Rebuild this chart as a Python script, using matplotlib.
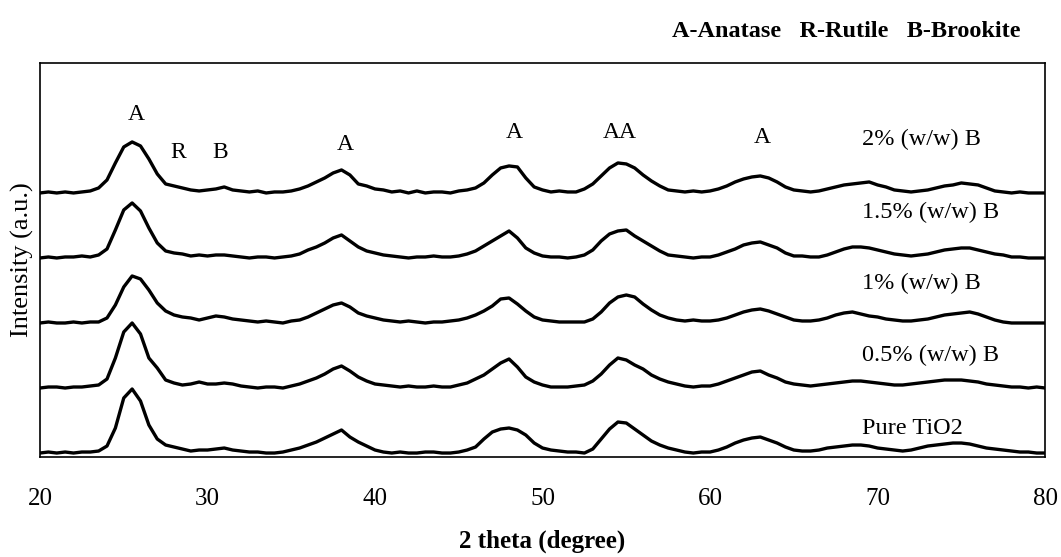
import numpy as np
import matplotlib
matplotlib.use('Agg')
import matplotlib.pyplot as plt

plt.rcParams['font.family'] = ['Liberation Serif', 'DejaVu Serif']

# 2 theta grid (degrees), 0.5 degree steps from 20 to 80
two_theta = np.arange(20, 80.5, 0.5)

# intensities (a.u., relative to each baseline)
pure_tio2 = [
    0, 1, 0, 1, 0, 1, 1, 2, 7, 25,
    55, 64, 52, 28, 14, 8, 6, 4, 2, 3,
    3, 4, 5, 3, 2, 1, 1, 0, 0, 1,
    3, 5, 8, 11, 15, 19, 23, 16, 11, 7,
    3, 1, 0, 1, 0, 0, 1, 1, 0, 0,
    1, 3, 6, 14, 21, 24, 25, 23, 18, 10,
    5, 3, 2, 1, 1, 0, 4, 14, 24, 31,
    30, 24, 18, 12, 8, 5, 3, 1, 0, 1,
    1, 3, 6, 10, 13, 15, 16, 13, 10, 6,
    3, 2, 2, 3, 5, 6, 7, 8, 8, 7,
    5, 4, 3, 2, 3, 5, 7, 8, 9, 10,
    10, 9, 7, 5, 4, 3, 2, 1, 1, 0,
    0]
b_05 = [
    0, 1, 1, 0, 1, 1, 2, 3, 9, 30,
    56, 65, 54, 30, 20, 8, 5, 3, 4, 6,
    4, 4, 5, 4, 2, 1, 0, 1, 1, 0,
    2, 4, 7, 10, 14, 19, 22, 17, 11, 7,
    4, 3, 2, 1, 2, 1, 1, 2, 1, 1,
    3, 5, 9, 13, 19, 25, 29, 21, 11, 6,
    3, 1, 1, 1, 2, 3, 7, 14, 23, 30,
    28, 23, 19, 13, 9, 6, 4, 2, 1, 2,
    2, 4, 7, 10, 13, 16, 17, 13, 10, 6,
    4, 3, 2, 3, 4, 5, 6, 7, 7, 6,
    5, 4, 3, 3, 4, 5, 6, 7, 8, 8,
    8, 7, 6, 4, 3, 2, 1, 1, 0, 1,
    0]
b_1 = [
    0, 1, 0, 0, 1, 0, 1, 1, 5, 18,
    36, 47, 44, 33, 20, 12, 8, 6, 5, 3,
    5, 7, 6, 4, 3, 2, 1, 2, 1, 0,
    2, 3, 6, 10, 14, 18, 20, 16, 10, 7,
    5, 3, 2, 1, 2, 1, 0, 1, 1, 2,
    3, 5, 8, 12, 17, 24, 25, 19, 12, 6,
    3, 2, 1, 1, 1, 1, 4, 11, 20, 26,
    28, 26, 19, 13, 8, 5, 3, 2, 3, 2,
    2, 3, 5, 8, 11, 13, 14, 12, 9, 6,
    3, 2, 2, 3, 5, 8, 10, 11, 9, 7,
    6, 4, 3, 2, 2, 3, 4, 6, 8, 9,
    10, 11, 9, 6, 3, 1, 0, 0, 0, 0,
    0]
b_15 = [
    0, 1, 0, 1, 1, 2, 1, 3, 9, 28,
    48, 55, 47, 30, 15, 7, 5, 4, 2, 3,
    2, 3, 3, 2, 1, 0, 1, 1, 0, 1,
    2, 4, 8, 11, 15, 20, 23, 17, 11, 7,
    5, 3, 2, 1, 0, 1, 1, 2, 1, 1,
    2, 4, 7, 12, 17, 22, 27, 20, 10, 5,
    2, 1, 1, 0, 1, 3, 8, 17, 24, 27,
    28, 22, 17, 12, 7, 3, 2, 1, 0, 1,
    1, 3, 6, 9, 13, 15, 16, 13, 10, 5,
    2, 2, 1, 1, 3, 6, 9, 11, 11, 10,
    8, 6, 4, 3, 2, 3, 4, 6, 8, 9,
    10, 10, 8, 6, 4, 3, 1, 1, 0, 0,
    0]
b_2 = [
    0, 1, 0, 1, 0, 1, 2, 5, 13, 30,
    46, 51, 47, 34, 19, 9, 7, 5, 3, 2,
    3, 4, 6, 3, 2, 1, 2, 0, 1, 1,
    2, 4, 7, 11, 15, 20, 23, 18, 9, 7,
    4, 3, 1, 2, 0, 2, 0, 1, 1, 0,
    2, 3, 5, 10, 18, 25, 27, 26, 15, 6,
    3, 1, 2, 1, 1, 4, 9, 17, 25, 30,
    29, 25, 18, 12, 7, 3, 2, 1, 2, 1,
    2, 4, 7, 11, 14, 16, 17, 15, 11, 6,
    3, 2, 1, 2, 4, 6, 8, 9, 10, 11,
    8, 6, 3, 2, 1, 2, 3, 5, 7, 8,
    10, 9, 8, 5, 2, 1, 0, 1, 0, 0,
    0]

series = [pure_tio2, b_05, b_1, b_15, b_2]
series_labels = ['Pure TiO2', '0.5% (w/w) B', '1% (w/w) B', '1.5% (w/w) B', '2% (w/w) B']
offsets = [4, 69, 134, 199, 264]
label_y = [29, 102, 174, 245, 318]

# phase markers above the top pattern
peak_marks = ['A', 'R', 'B', 'A', 'A', 'AA', 'A']
peak_x = [25.75, 28.25, 30.75, 38.2, 48.3, 54.6, 63.1]
peak_y = [342, 304, 304, 312, 324, 324, 319]

fig = plt.figure(figsize=(10.61, 5.57), dpi=100)
ax = fig.add_axes([0.0377, 0.1795, 0.9473, 0.7075])

for vals, off in zip(series, offsets):
    ax.plot(two_theta, np.array(vals) + off, color='black', linewidth=2.4)

for lab, y in zip(series_labels, label_y):
    ax.text(69.1, y, lab, fontsize=17.5, ha='left', va='center')

for m, x, y in zip(peak_marks, peak_x, peak_y):
    ax.text(x, y, m, fontsize=17, ha='center', va='center')

ax.set_xlim(20, 80)
ax.set_ylim(0, 394)
ax.set_xticks([20, 30, 40, 50, 60, 70, 80])
ax.set_yticks([])
ax.tick_params(axis='x', length=0, pad=22, labelsize=18)
for s in ax.spines.values():
    s.set_linewidth(1.2)

ax.set_xlabel('2 theta (degree)', fontsize=18, fontweight='bold', va='center')
ax.xaxis.set_label_coords(0.5, -0.215)
ax.set_ylabel('Intensity (a.u.)', fontsize=19)
ax.yaxis.set_label_coords(-0.006, 0.5)

fig.text(0.962, 0.944, 'A-Anatase   R-Rutile   B-Brookite', fontsize=17.5,
         fontweight='bold', ha='right', va='center')

plt.savefig('out.png', dpi=100)
plt.close()
